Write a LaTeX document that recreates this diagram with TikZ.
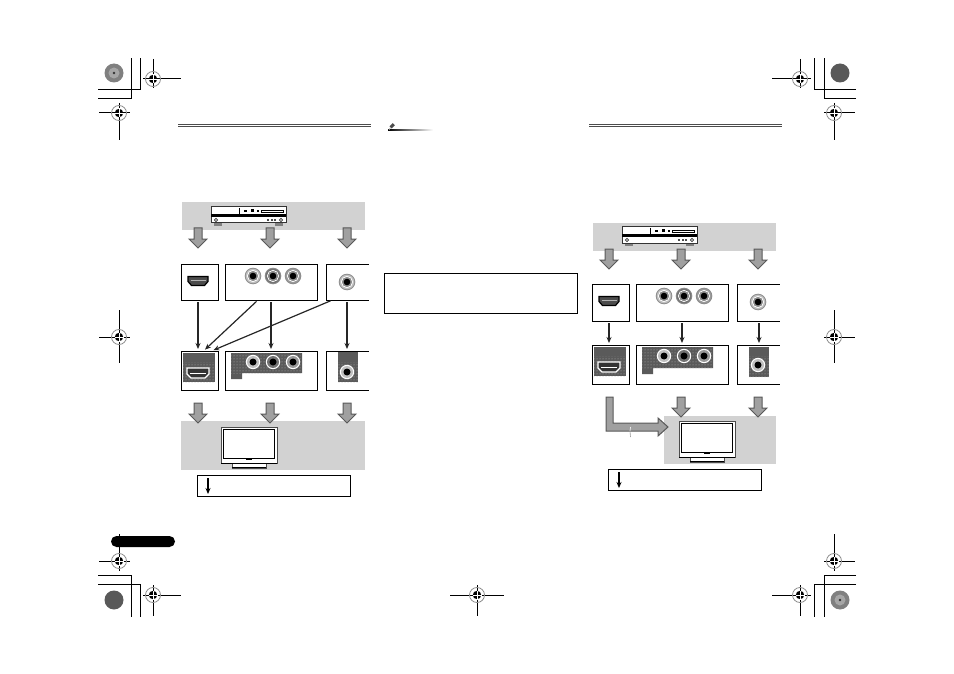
\documentclass[tikz,border=0pt]{standalone}
\usepackage{xcolor}
\usetikzlibrary{arrows.meta,patterns}

\definecolor{bandgray}{HTML}{D2D2D2}
\definecolor{arrowgray}{HTML}{A0A0A0}
\definecolor{panelgray}{HTML}{5A5A5A}

\tikzset{
  box/.style={draw=black,line width=1pt,fill=white,inner sep=0pt,outer sep=0pt},
  link/.style={draw=black!85,line width=1.2pt,-{Stealth[length=6pt,width=5pt]},shorten >=2pt,shorten <=2pt},
  crop/.style={black,line width=1pt},
  band/.style={fill=bandgray,draw=none},
  panel/.style={fill=panelgray,draw=none},
  fatarrow/.pic={
    \draw[fill=arrowgray,draw=black!65,line width=1pt,line join=miter]
      (-4,0) -- (4,0) -- (4,11) -- (9,11) -- (0,20) -- (-9,11) -- (-4,11) -- cycle;
  },
  jack/.pic={
    \fill[black!45] (0,0) circle (8.3);
    \fill[#1] (0,0) circle (7.3);
    \draw[white,line width=.8pt] (0,0) circle (5.6);
    \fill[black!45] (0,0) circle (5);
    \fill[black] (0,0) circle (3.3);
  },
  jackin/.pic={
    \fill[white] (0,0) circle (7.2);
    \fill[#1] (0,0) circle (6);
    \fill[black] (0,0) circle (3.5);
  },
  hdmiplug/.pic={
    \draw[fill=black!70,draw=black,line width=1.2pt]
      (-10,-4.5) -- (10,-4.5) -- (10,0.5) -- (6.5,4.5) -- (-6.5,4.5) -- (-10,0.5) -- cycle;
    \draw[white!70!black,line width=.7pt] (-7.5,-.5) -- (7.5,-.5);
  },
  hdmisocket/.pic={
    \draw[fill=black!80,draw=white,line width=1.2pt]
      (-11,-5) -- (11,-5) -- (11,1) -- (7,5) -- (-7,5) -- (-11,1) -- cycle;
    \draw[white,line width=.7pt] (-8,0) -- (8,0);
  },
  player/.pic={
    \fill[black!50] (3,16) rectangle (11,19);
    \fill[black!50] (64,16) rectangle (72,19);
    \draw[fill=white,draw=black!80,line width=1pt] (0,0) rectangle (75,16);
    \fill[black] (0,7.5) rectangle (75,10);
    \draw[black,line width=.6pt] (28.5,1) -- (28.5,7);
    \draw[black,line width=.6pt,fill=white] (50,3) rectangle (72,5);
    \fill[black] (33,3.2) rectangle (36,4.8);
    \fill[black] (40,2.5) rectangle (43,5.2);
    \fill[black] (46,3.2) rectangle (48,4.8);
    \draw[black!80,line width=.7pt] (5,13) circle (1.7);
    \draw[black!80,line width=.7pt] (70,13) circle (1.7);
    \fill[black!70] (56,12.3) rectangle (58,13.7);
    \fill[black!70] (59.5,12.3) rectangle (61.5,13.7);
    \fill[black!70] (63,12.3) rectangle (65,13.7);
  },
  tvset/.pic={
    \draw[fill=white,draw=black!70,line width=1pt] (11,36) rectangle (45,41);
    \fill[black] (11,39.5) rectangle (45,41);
    \draw[fill=white,draw=black!70,line width=1pt] (0,0) rectangle (56,36);
    \draw[draw=black,fill=white,line width=1pt] (2.5,2.5) rectangle (53.5,31.5);
    \draw[black,line width=1pt] (0,36) -- (56,36);
    \fill[black] (25,31.5) rectangle (31,33);
  },
  regmark/.pic={
    \draw[black!45,line width=.8pt] (0,0) circle (7.5);
    \fill[black] (0,0) circle (4.2);
    \draw[white,line width=.7pt] (-4.5,0) -- (4.5,0);
    \draw[white,line width=.7pt] (0,-4.5) -- (0,4.5);
  }
}

\begin{document}
\begin{tikzpicture}[x=1pt,y=-1pt]
\useasboundingbox (0,0) rectangle (954,674);

% crop corners
\draw[crop] (98,99) -- (131,99) -- (131,58);
\draw[crop] (98,90) -- (140,90) -- (140,58);
\draw[crop] (98,575) -- (131,575) -- (131,617);
\draw[crop] (98,584) -- (140,584) -- (140,617);
\draw[crop] (856,90) -- (814,90) -- (814,58);
\draw[crop] (856,99) -- (824,99) -- (824,58);
\draw[crop] (856,575) -- (824,575) -- (824,617);
\draw[crop] (856,584) -- (814,584) -- (814,617);

% color discs
\fill[black!50] (114,73) circle (9.5);
\fill[black!35] (114,73) circle (5.5);
\fill[black!80] (114,73) circle (1.3);
\fill[black!65] (114,600) circle (9.5);
\fill[black!65] (840,73) circle (9.5);
\fill[black!50] (840,600) circle (9.5);
\fill[black!35] (840,600) circle (5.5);
\fill[black!80] (840,600) circle (1.3);

% register marks
\draw[crop] (143,79) -- (181,79);
\draw[crop] (153,59) -- (153,88);
\pic at (153,79) {regmark};
\draw[crop] (99,113) -- (130,113);
\draw[crop] (119,103) -- (119,140);
\pic at (119,113) {regmark};
\draw[crop] (772,79) -- (811,79);
\draw[crop] (800,59) -- (800,88);
\pic at (800,79) {regmark};
\draw[crop] (824,113) -- (855,113);
\draw[crop] (834,103) -- (834,140);
\pic at (834,113) {regmark};
\draw[crop] (99,337) -- (130,337);
\draw[crop] (119,310) -- (119,363);
\pic at (119,337) {regmark};
\draw[crop] (824,337) -- (855,337);
\draw[crop] (834,310) -- (834,363);
\pic at (834,337) {regmark};
\draw[crop] (99,561) -- (130,561);
\draw[crop] (119,534) -- (119,571);
\pic at (119,561) {regmark};
\draw[crop] (824,561) -- (855,561);
\draw[crop] (834,534) -- (834,571);
\pic at (834,561) {regmark};
\draw[crop] (143,595) -- (181,595);
\draw[crop] (153,585) -- (153,616);
\pic at (153,595) {regmark};
\draw[crop] (450,595) -- (504,595);
\draw[crop] (477,585) -- (477,616);
\pic at (477,595) {regmark};
\draw[crop] (772,595) -- (811,595);
\draw[crop] (800,585) -- (800,616);
\pic at (800,595) {regmark};

% header rules
\draw[black!70,line width=.8pt] (178,124) -- (371,124);
\draw[black!70,line width=.8pt] (178,126) -- (371,126);
\draw[black!70,line width=.8pt] (589,124) -- (782,124);
\draw[black!70,line width=.8pt] (589,126) -- (782,126);
\shade[left color=black,right color=white] (388,129.5) rectangle (433,131);
\fill[black!70,rotate around={45:(392,126)}] (390,124.5) rectangle (394.5,127.5);
\draw[black!35,line width=.7pt] (390.5,127.5) -- (389,130);

% page tab and note box
\fill[black,rounded corners=5.5pt] (111,536) rectangle (175,547);
\draw[black,line width=1pt] (384,273) rectangle (577,313);
\draw[black,line width=1.5pt] (384.5,273) -- (384.5,313);

% left diagram
\fill[band] (182,202) rectangle (365,230);
\pic at (211,207) {player};
\pic at (198,228) {fatarrow};
\pic at (270,228) {fatarrow};
\pic at (347,228) {fatarrow};

\node[box,minimum width=37pt,minimum height=36pt] (hdmiOutA) at (199.5,282) {};
\node[box,minimum width=92pt,minimum height=36pt] (avOutA) at (271,282) {};
\draw[black,line width=1pt] (368.5,264) -- (326,264) -- (326,300) -- (368.5,300);
\coordinate (coaxOutA) at (347,300);
\node[box,minimum width=37pt,minimum height=39pt] (hdmiInA) at (199.5,370.5) {};
\node[box,minimum width=92pt,minimum height=39pt] (avInA) at (271,370.5) {};
\draw[black,line width=1pt] (368.5,351) -- (326,351) -- (326,390) -- (368.5,390);
\coordinate (coaxInA) at (347,351);

\pic at (198,281) {hdmiplug};
\pic at (253,276) {jack=black!25};
\pic at (273,276) {jack=black!55};
\pic at (293,276) {jack=black!40};
\pic at (347,282) {jack=black!25};

\fill[panel] (183,353) rectangle (215,382);
\fill[pattern=dots,pattern color=white!70!black] (183,362) rectangle (215,382);
\pic at (198,373) {hdmisocket};
\fill[panel] (231,353) -- (302,353) -- (302,373) -- (242,373) -- (242,379) -- (231,379) -- cycle;
\fill[pattern=dots,pattern color=white!70!black] (231,353) rectangle (302,373);
\pic at (253,362) {jackin=black!25};
\pic at (273,362) {jackin=black!55};
\pic at (293,362) {jackin=black!40};
\fill[panel] (338,352) rectangle (358,382);
\fill[pattern=dots,pattern color=white!70!black] (338,362) rectangle (358,382);
\pic at (347,372) {jackin=black!25};

\draw[link] ([xshift=-1.5pt]hdmiOutA.south) -- ([xshift=-1.5pt]hdmiInA.north);
\draw[link] ([xshift=-13pt]avOutA.south) -- ([xshift=4pt]hdmiInA.north);
\draw[link] (avOutA) -- (avInA);
\draw[link] ([xshift=15.5pt]avOutA.south east) -- ([xshift=12pt]hdmiInA.north);
\draw[link] (coaxOutA) -- (coaxInA);

\fill[band] (181,421) rectangle (365,470);
\pic at (198,403) {fatarrow};
\pic at (270,403) {fatarrow};
\pic at (347,403) {fatarrow};
\pic at (221,427) {tvset};

\node[box,minimum width=153pt,minimum height=21pt] (legendA) at (273.5,485.5) {};
\coordinate (legendTopA) at (208,478);
\coordinate (legendEndA) at (208,494);
\draw[black,line width=1.2pt,-{Stealth[length=6pt,width=5pt]}] (legendTopA) -- (legendEndA);

% right diagram
\fill[band] (593,223) rectangle (776,251);
\pic at (622,227) {player};
\pic at (609,249) {fatarrow};
\pic at (681,249) {fatarrow};
\pic at (758,249) {fatarrow};

\node[box,minimum width=37pt,minimum height=37pt] (hdmiOutB) at (610.5,302.5) {};
\node[box,minimum width=92pt,minimum height=37pt] (avOutB) at (682,302.5) {};
\draw[black,line width=1pt] (779.5,284) -- (737,284) -- (737,321) -- (779.5,321);
\coordinate (coaxOutB) at (759,321);
\node[box,minimum width=37pt,minimum height=39pt] (hdmiInB) at (610.5,364.5) {};
\node[box,minimum width=92pt,minimum height=39pt] (avInB) at (682,364.5) {};
\draw[black,line width=1pt] (779.5,345) -- (737,345) -- (737,384) -- (779.5,384);
\coordinate (coaxInB) at (759,345);

\pic at (609,301) {hdmiplug};
\pic at (664,296) {jack=black!25};
\pic at (684,296) {jack=black!55};
\pic at (704,296) {jack=black!40};
\pic at (758,302) {jack=black!25};

\fill[panel] (594,347) rectangle (626,376);
\fill[pattern=dots,pattern color=white!70!black] (594,356) rectangle (626,376);
\pic at (609,367) {hdmisocket};
\fill[panel] (642,347) -- (713,347) -- (713,368) -- (653,368) -- (653,374) -- (642,374) -- cycle;
\fill[pattern=dots,pattern color=white!70!black] (642,347) rectangle (713,368);
\pic at (664,356) {jackin=black!25};
\pic at (684,356) {jackin=black!55};
\pic at (704,356) {jackin=black!40};
\fill[panel] (749,347) rectangle (769,377);
\fill[pattern=dots,pattern color=white!70!black] (749,356) rectangle (769,377);
\pic at (758,365) {jackin=black!25};

\draw[link] ([xshift=-1.5pt]hdmiOutB.south) -- ([xshift=-1.5pt]hdmiInB.north);
\draw[link] (avOutB) -- (avInB);
\draw[link] (coaxOutB) -- (coaxInB);

\fill[band] (664,416) rectangle (776,464);
\pic at (681,397) {fatarrow};
\pic at (758,397) {fatarrow};
\draw[fill=arrowgray,draw=black!65,line width=1pt,line join=miter]
  (606,397) -- (613,397) -- (613,423) -- (658,423) -- (658,418) -- (668,427) -- (658,436) -- (658,431) -- (606,431) -- cycle;
\draw[white,line width=.6pt] (630.5,427) to[bend right=10] (630,431);
\draw[black!40,line width=.6pt] (630,431) to[bend right=10] (630.5,437);
\pic at (679,421) {tvset};

\node[box,minimum width=153pt,minimum height=21pt] (legendB) at (684.5,479.5) {};
\coordinate (legendTopB) at (619,472);
\coordinate (legendEndB) at (619,488);
\draw[black,line width=1.2pt,-{Stealth[length=6pt,width=5pt]}] (legendTopB) -- (legendEndB);
\end{tikzpicture}
\end{document}
